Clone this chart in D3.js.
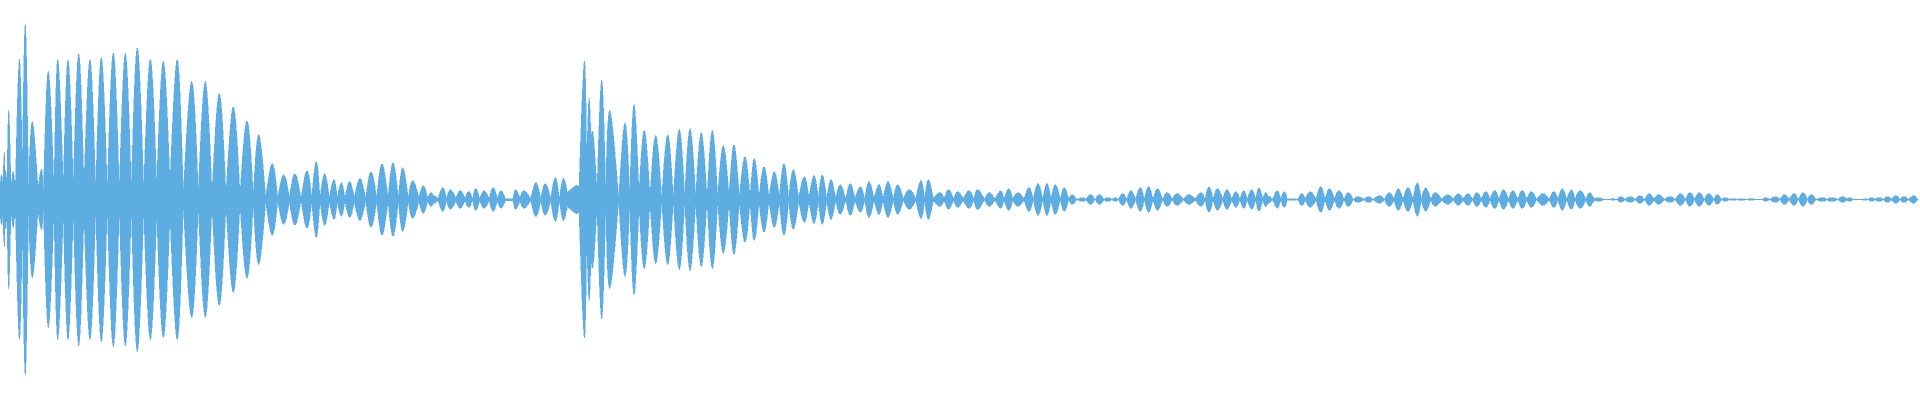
<!DOCTYPE html>
<html>
<head>
<meta charset="utf-8">
<style>html,body{margin:0;padding:0;background:#fff;overflow:hidden}svg{display:block}</style>
<script src="https://cdn.jsdelivr.net/npm/d3@7"></script>
</head>
<body>
<svg id="chart" width="1920" height="400"></svg>
<script>
// Waveform envelope: alternating [time, amplitude] trough, peak, trough ...
const firstHit = [[0,12],[1.3,25],[2.7,16],[4.3,47],[5,27],[6,28],[7,14],[8.7,89],[11,12],[13.3,28],[15.3,9],[19.3,140],[22.3,34],[25.3,175],[28.5,16],[32.3,78],[38,12],[41.5,30],[43.5,11],[48.3,128],[54,10],[57.7,140],[63.3,15],[68,140],[73.3,15],[78.7,146],[84,15],[90,140],[95.7,11],[101.3,142],[107.3,11],[113.3,147],[119.3,11],[125.3,146],[131.3,12],[137.3,152],[143.7,12],[150.3,140],[156.7,16],[163.3,138],[170,17],[177.3,140],[183.3,7]];
const firstDecay = [[191.7,118],[198.3,8],[205.3,118],[212,7],[219.3,106],[226,6],[233.3,93],[240,6],[247,79],[253.3,5],[258.7,65],[265.7,2.5],[272.3,36],[277.7,2],[283.7,25],[289.3,2.5],[295,26],[301,1],[307,29],[311.7,2.5],[316.3,38],[320,2]];
const quietGap = [[324.7,26],[329.3,2],[334,20],[337.3,2],[341.3,17],[345,2],[349.7,18],[354.3,2],[360,21],[365.7,1.5],[371,28],[376.7,2],[382,36],[388,2],[393,37],[398.3,2],[402.7,32],[408.3,2],[412.7,19],[419,2],[423.3,14],[427.7,1.5],[431,7],[434,3],[435,3.5],[438,1],[442.7,12],[446.7,1],[450.3,10],[455.7,1.5],[460.3,9],[465,1],[468.7,8],[472.7,1],[475.7,11],[479.7,1],[484,9],[489,1],[493.3,12],[497.3,1],[501,9],[505.3,1],[510,1],[513,1],[515.7,10],[520,1.5],[524,9],[530.7,1],[536,17],[540.7,1],[545.3,16],[550.7,1],[555.3,22],[559.3,1],[563.3,21],[567.3,7]];
const secondHit = [[576,14],[579,12],[584.3,138],[586.7,40],[589,101],[591,60],[593.3,65],[597,9],[601.7,119],[605.7,8],[609.7,89],[618.7,2],[625,77],[629.7,6],[634,95],[639,7],[644.3,69],[650,4],[655.7,64],[661.7,2],[667.7,65],[673.3,2],[679.3,70],[684.7,3],[690,71],[695.7,4],[701.3,67],[707,2],[712.3,69],[717.7,3]];
const secondDecay = [[723.3,54],[729,4],[734,55],[739.3,3],[745,43],[750,3],[754.3,41],[759,3],[764,33],[769,2],[774.3,28],[779.3,3],[784,36],[788.7,2],[793.3,30],[798.7,2],[804.3,23],[809,2],[814,24],[818.3,2],[822.3,25],[826.7,1],[831,20],[835.7,1],[840.3,15],[845.7,0.5],[850.3,16],[855,1],[860.3,13],[864.7,1],[869,18],[874,1],[879,15],[883,1]];
const tailA = [[888,18],[893.3,0.7],[897.7,15],[903.3,0.7],[909.3,10],[915.7,0.7],[921,19],[924.7,0.7],[928.3,20],[933.3,1.3],[940,7],[944,0.7],[948.7,10],[953.3,0.7],[957.7,8],[963.3,0.7],[969,9],[973.7,0.7],[977.7,10],[984.3,0.5],[989.3,7],[995,0.5],[1000.7,9],[1004,0.5],[1008.7,11],[1012.7,0.7],[1018,7],[1024,0.5],[1029,12],[1033.3,0.5],[1038,16],[1042.7,0.5],[1047,16],[1051,0.5],[1055.3,15],[1060.3,0.5],[1064.3,12],[1068.7,0.5],[1072.3,5],[1076.7,0.3],[1082.7,2],[1086,0.3],[1090.3,5],[1095,0.3],[1099.7,5],[1104,0.3],[1108.3,2],[1111.7,0.3],[1115.3,2],[1118.3,0.3],[1122.7,6],[1126.7,0.5],[1131,9],[1135.7,0.5],[1140.3,12],[1144.3,0.5],[1148.7,13],[1153,0.5],[1157.7,11],[1162.3,0.5],[1167.3,7],[1172.3,0.5],[1177.3,6],[1183.3,0.5],[1189,5],[1195,0.5],[1201,7],[1205,0.5],[1209,13],[1213,0.5],[1217.7,11],[1222.7,0.5],[1227,10],[1232,0.5]];
const tailB = [[1235.7,8],[1240,0.5],[1243.7,9],[1247.3,0.5],[1251.7,10],[1255.7,0.5],[1259,12],[1262.7,0.5],[1265.3,7],[1268,3],[1270,3],[1272.7,0.3],[1277.3,9],[1280.7,0.3],[1284.3,8],[1287.3,0.3],[1291,1],[1293,0.3],[1295,1],[1297.7,0.3],[1301.7,6],[1305.3,0.5],[1310.3,8],[1316,0.5],[1320.7,13],[1325,0.5],[1329.7,11],[1334.3,0.5],[1339,9],[1344,0.5],[1348.3,7],[1353.3,0.3],[1358.3,3],[1364.3,0.3],[1368,3],[1373.3,0.3],[1379.3,4],[1384.3,0.3],[1389.3,7],[1394,0.5],[1398.3,11],[1403,0.5],[1408,12],[1413,0.5],[1417.3,17],[1421.3,0.5],[1425.7,12],[1430.7,0.5],[1435.3,7],[1442,0.5],[1447.7,5],[1453.3,0.5],[1458.3,6],[1463,0.5],[1468,6],[1472.3,0.5],[1477,7],[1481.3,0.5],[1485.7,8],[1490,0.5],[1494.7,9],[1499,0.5],[1503.7,10],[1508.3,0.5],[1513,9],[1517.7,0.5],[1522.3,9],[1526.7,0.5],[1531.3,8],[1536.7,0.5],[1543,6],[1549,0.5],[1553.7,8],[1558,0.5],[1562.3,11],[1566.7,0.5],[1571.3,10],[1575,0.5]];
const tailC = [[1580.3,9],[1585.7,0.5],[1589.7,7],[1594.3,0.5],[1598.3,2],[1603.3,0.3],[1606.7,0.3],[1610,0],[1612.3,1],[1616.7,0.2],[1621,3],[1625,0.3],[1630,3],[1635,0.3],[1639.7,4],[1644.7,0.3],[1649.3,6],[1654,0.3],[1658.7,5],[1664.3,0.3],[1669.7,3],[1675.3,0.3],[1680.7,6],[1685.3,0.3],[1690,7],[1694.7,0.3],[1699.3,7],[1704.3,0.3],[1709,6],[1713.7,0.3],[1717.3,5],[1721.7,0.3],[1725,2],[1729.3,0.2],[1732.7,1],[1736.7,0.2],[1741.7,1],[1746.7,0.2],[1750.7,1],[1755,0.1],[1760,0.3],[1762.5,0.2],[1765.3,2],[1770,0.2],[1775,3],[1780,0.3],[1784.7,5],[1789.3,0.3],[1794,6],[1798.3,0.3],[1803,7],[1807.3,0.3],[1811.3,5],[1816,0.3],[1823,2],[1826.7,0.3],[1832,2],[1837.7,0.3],[1842.7,3],[1846.7,0.3],[1849.3,2],[1853.3,0.1],[1860,0.4],[1862.7,0.2],[1865,1],[1868.3,0.2],[1871.3,2],[1875,0.2],[1879.3,2],[1883.3,0.2],[1887.7,3],[1891.7,0.3],[1895.7,4],[1900,0.3],[1904,3],[1908.7,0.3],[1913.7,4],[1917.7,0.3],[1920,2]];

const envelope = d3.merge([firstHit, firstDecay, quietGap, secondHit, secondDecay, tailA, tailB, tailC]);
const lobes = d3.range(0, envelope.length - 2, 2).map(i => envelope.slice(i, i + 3));

const x = d3.scaleLinear().domain([0, 1920]).range([0, 1920]);
const y = d3.scaleLinear().domain([-180, 180]).range([379.5, 19.5]);

const area = d3.area()
  .x(d => x(d[0]))
  .y0(d => y(-d[1]))
  .y1(d => y(d[1]))
  .curve(d3.curveNatural);

d3.select('#chart').append('g')
  .attr('fill', '#5DADE2')
  .attr('stroke', '#5DADE2')
  .attr('stroke-width', 0.5)
  .attr('stroke-miterlimit', 40)
  .attr('shape-rendering', 'crispEdges')
  .selectAll('path')
  .data(lobes)
  .join('path')
  .attr('d', area);
</script>
</body>
</html>
